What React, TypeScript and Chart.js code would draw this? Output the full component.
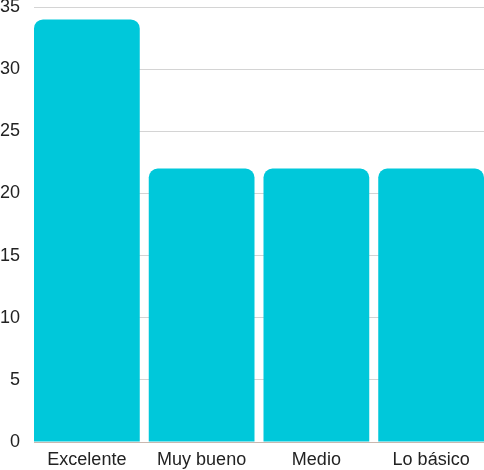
import React, { useEffect, useRef } from "react";
import { Chart, registerables } from "chart.js";

Chart.register(...registerables);

const categories = ["Excelente", "Muy bueno", "Medio", "Lo básico"];
const values = [34, 22, 22, 22];
const yTicks = [0, 5, 10, 15, 20, 25, 30, 35];

export default function App() {
  const ref = useRef<HTMLCanvasElement | null>(null);
  useEffect(() => {
    document.body.style.margin = "0";
    const ctx = ref.current!.getContext("2d")!;
    const barFrac = 0.9216;
    const half = barFrac / 2;
    const chart = new Chart(ctx, {
      type: "bar",
      data: {
        datasets: [
          {
            data: values.map((v, i) => ({ x: i, y: v })),
            backgroundColor: "#00C8DA",
            borderRadius: 9,
            borderSkipped: "start",
            barPercentage: barFrac,
            categoryPercentage: 1,
          },
        ],
      },
      options: {
        animation: false,
        responsive: false,
        maintainAspectRatio: false,
        layout: { padding: 0 },
        plugins: { legend: { display: false }, tooltip: { enabled: false } },
        scales: {
          x: {
            type: "linear",
            min: -half,
            max: categories.length - 1 + half,
            offset: false,
            grid: { display: false, drawTicks: false },
            border: { display: true, color: "#c9b8b0" },
            afterBuildTicks: (axis: any) => {
              axis.ticks = categories.map((_, i) => ({ value: i }));
            },
            afterFit: (axis: any) => {
              axis.height = 28;
              axis.paddingLeft = 0;
              axis.paddingRight = 0;
            },
            ticks: {
              autoSkip: false,
              maxRotation: 0,
              color: "#222",
              font: { family: "Liberation Sans", size: 18, lineHeight: 1.1 },
              padding: 8,
              callback: (v: any) => categories[Math.round(Number(v))] ?? "",
            },
          },
          y: {
            min: 0,
            max: yTicks[yTicks.length - 1],
            afterBuildTicks: (axis: any) => {
              axis.ticks = yTicks.map((v) => ({ value: v }));
            },
            afterFit: (axis: any) => {
              axis.width = 34;
              axis.paddingTop = 7;
              axis.paddingBottom = 0;
            },
            grid: { color: "#d4d4d4", drawTicks: false },
            border: { display: false },
            ticks: {
              color: "#222",
              font: { family: "Liberation Sans", size: 18, lineHeight: 1.1 },
              padding: 14,
            },
          },
        },
      },
    });
    return () => chart.destroy();
  }, []);
  return (
    <div style={{ position: "absolute", left: 0, top: 0, width: 484, height: 470 }}>
      <canvas ref={ref} width={484} height={470} style={{ display: "block" }} />
    </div>
  );
}
